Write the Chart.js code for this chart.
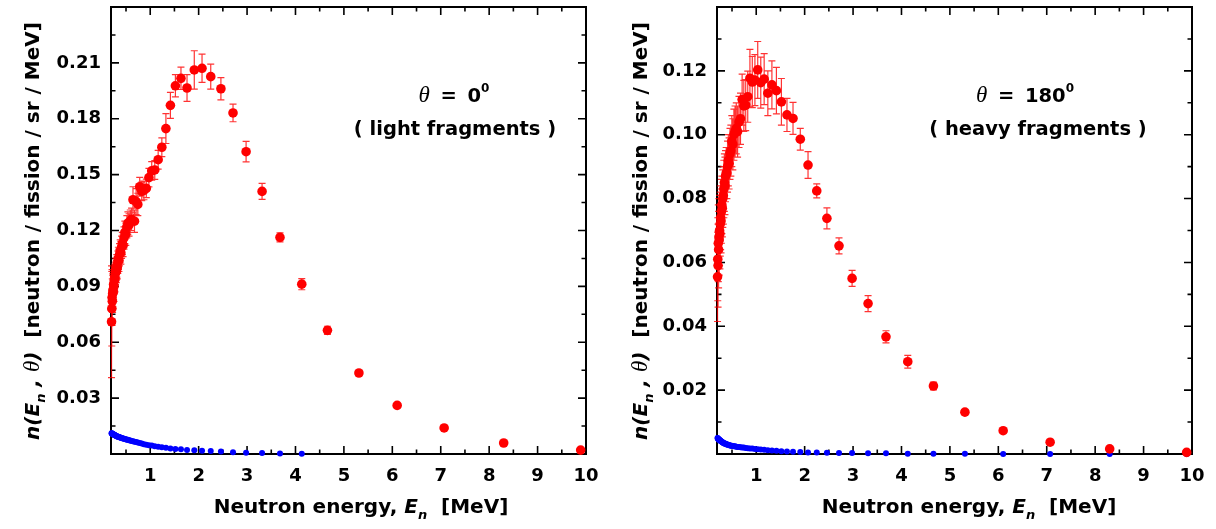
<!DOCTYPE html>
<html>
<head>
<meta charset="utf-8">
<script src="https://cdn.jsdelivr.net/npm/chart.js@4.4.1/dist/chart.umd.min.js"></script>
<style>
  html, body { margin: 0; padding: 0; background: #ffffff; }
  #wrap { position: relative; width: 1216px; height: 529px; overflow: hidden; background: #ffffff; }
  .panel { position: absolute; top: 0; width: 608px; height: 529px; }
</style>
</head>
<body>
<div id="wrap">
  <div class="panel" style="left:0px"><canvas id="lightChart" width="608" height="529"></canvas></div>
  <div class="panel" style="left:608px"><canvas id="heavyChart" width="608" height="529"></canvas></div>
</div>
<script>
// Neutron energy bins [MeV]
const energy = [
  0.201, 0.206, 0.212, 0.217, 0.223, 0.230, 0.236, 0.243, 0.250, 0.257,
  0.265, 0.273, 0.282, 0.291, 0.300, 0.310, 0.320, 0.331, 0.342, 0.354,
  0.366, 0.380, 0.394, 0.408, 0.424, 0.440, 0.458, 0.476, 0.496, 0.517,
  0.539, 0.563, 0.588, 0.615, 0.644, 0.675, 0.709, 0.744, 0.783, 0.825,
  0.870, 0.919, 0.973, 1.031, 1.094, 1.164, 1.240, 1.324, 1.417, 1.520,
  1.635, 1.760, 1.910, 2.070, 2.250, 2.460, 2.710, 2.980, 3.310, 3.680,
  4.130, 4.660, 5.310, 6.100, 7.070, 8.300, 9.890
];

// theta = 0 deg (light fragments): spectrum and its uncertainty
const lightSpectrum = [
  0.071, 0.078, 0.084, 0.082, 0.086, 0.088, 0.087, 0.091, 0.090, 0.093,
  0.095, 0.094, 0.097, 0.099, 0.098, 0.101, 0.100, 0.103, 0.105, 0.104,
  0.107, 0.109, 0.108, 0.111, 0.113, 0.112, 0.116, 0.119, 0.118, 0.122,
  0.124, 0.123, 0.125, 0.126, 0.1365, 0.125, 0.1355, 0.134, 0.1435, 0.141,
  0.1415, 0.1426, 0.1484, 0.152, 0.1525, 0.158, 0.1647, 0.1747, 0.1872, 0.1977,
  0.2017, 0.1965, 0.2062, 0.2071, 0.2026, 0.1961, 0.1831, 0.1623, 0.141, 0.1163,
  0.0912, 0.0664, 0.0435, 0.0261, 0.014, 0.0059, 0.0021
];
const lightError = [
  0.030, 0.020, 0.015, 0.012, 0.010, 0.009, 0.009, 0.008, 0.008, 0.007,
  0.007, 0.007, 0.006, 0.006, 0.006, 0.006, 0.006, 0.006, 0.006, 0.006,
  0.006, 0.006, 0.006, 0.006, 0.006, 0.006, 0.006, 0.006, 0.006, 0.006,
  0.006, 0.006, 0.006, 0.006, 0.007, 0.006, 0.007, 0.006, 0.005, 0.005,
  0.005, 0.005, 0.005, 0.005, 0.005, 0.005, 0.005, 0.008, 0.007, 0.006,
  0.006, 0.0072, 0.0103, 0.0076, 0.0067, 0.006, 0.0047, 0.0055, 0.0043, 0.0024,
  0.003, 0.0022, 0.0012, 0.001, 0.0008, 0.0006, 0.0005
];
const lightLow = [
  0.0112, 0.0111, 0.0110, 0.0109, 0.0108, 0.0107, 0.0106, 0.0105, 0.0104, 0.0103,
  0.0102, 0.0101, 0.0099, 0.0098, 0.0097, 0.0095, 0.0094, 0.0093, 0.0092, 0.0091,
  0.0090, 0.0089, 0.0087, 0.0086, 0.0085, 0.0083, 0.0082, 0.0080, 0.0079, 0.0077,
  0.0076, 0.0074, 0.0072, 0.0070, 0.0068, 0.0066, 0.0064, 0.0062, 0.0059, 0.0056,
  0.0053, 0.0050, 0.0047, 0.0045, 0.0042, 0.0039, 0.0036, 0.0033, 0.0030, 0.0027,
  0.0025, 0.0022, 0.0020, 0.0018, 0.0016, 0.0013, 0.0010, 0.0007, 0.0005, 0.0003,
  0.0002
];

// theta = 180 deg (heavy fragments)
const heavySpectrum = [
  0.0555, 0.061, 0.059, 0.066, 0.064, 0.068, 0.067, 0.070, 0.069, 0.072,
  0.074, 0.073, 0.076, 0.078, 0.077, 0.080, 0.081, 0.083, 0.085, 0.084,
  0.087, 0.088, 0.088, 0.090, 0.092, 0.091, 0.094, 0.095, 0.098, 0.097,
  0.100, 0.101, 0.102, 0.101, 0.104, 0.105, 0.111, 0.109, 0.1093, 0.1119,
  0.1177, 0.1165, 0.1171, 0.1203, 0.1163, 0.1174, 0.113, 0.1156, 0.1138, 0.1103,
  0.1062, 0.1051, 0.0986, 0.0905, 0.0824, 0.0738, 0.0652, 0.055, 0.0471, 0.0367,
  0.0289, 0.0213, 0.0131, 0.0073, 0.0037, 0.0016, 0.0005
];
const heavyError = [
  0.014, 0.013, 0.013, 0.012, 0.012, 0.012, 0.011, 0.011, 0.011, 0.010,
  0.010, 0.010, 0.010, 0.009, 0.009, 0.009, 0.009, 0.009, 0.009, 0.009,
  0.008, 0.008, 0.008, 0.008, 0.008, 0.008, 0.008, 0.008, 0.008, 0.008,
  0.008, 0.008, 0.008, 0.008, 0.008, 0.008, 0.008, 0.008, 0.008, 0.008,
  0.009, 0.008, 0.008, 0.0089, 0.008, 0.008, 0.007, 0.0075, 0.0073, 0.0073,
  0.0052, 0.005, 0.0034, 0.0042, 0.0022, 0.0033, 0.0025, 0.0025, 0.0025, 0.0019,
  0.002, 0.0012, 0.0008, 0.0006, 0.0005, 0.0004, 0.0003
];
const heavyLow = [
  0.0050, 0.0049, 0.0048, 0.0047, 0.0046, 0.0045, 0.0045, 0.0044, 0.0043, 0.0042,
  0.0041, 0.0040, 0.0039, 0.0038, 0.0037, 0.0036, 0.0035, 0.0034, 0.0033, 0.0033,
  0.0032, 0.0031, 0.0030, 0.0029, 0.0029, 0.0028, 0.0027, 0.0026, 0.0026, 0.0025,
  0.0024, 0.0024, 0.0023, 0.0022, 0.0022, 0.0021, 0.0020, 0.0020, 0.0019, 0.0018,
  0.0017, 0.0017, 0.0016, 0.0015, 0.0014, 0.0013, 0.0012, 0.0011, 0.0010, 0.0009,
  0.0008, 0.0007, 0.0006, 0.0005, 0.0005, 0.0004, 0.0003, 0.0003, 0.0002, 0.0002,
  0.0001, 0.0001, 0.0001, 0.0000, 0.0000, 0.0000, 0.0000
];

// Axis ticks and labels
const xTickValues = [1, 2, 3, 4, 5, 6, 7, 8, 9, 10];
const xTickLabels = ['1', '2', '3', '4', '5', '6', '7', '8', '9', '10'];
const lightYTickValues = [0.03, 0.06, 0.09, 0.12, 0.15, 0.18, 0.21];
const lightYTickLabels = ['0.03', '0.06', '0.09', '0.12', '0.15', '0.18', '0.21'];
const heavyYTickValues = [0.02, 0.04, 0.06, 0.08, 0.10, 0.12];
const heavyYTickLabels = ['0.02', '0.04', '0.06', '0.08', '0.10', '0.12'];

const RED = '#ff0000';
const BLUE = '#0000ff';
const SANS = '"DejaVu Sans"';

function points(xs, ys) {
  return ys.map((v, i) => ({ x: xs[i], y: v }));
}

// Major/minor tick positions: minor ticks halfway between labelled steps
function tickGrid(min, max, step) {
  const out = [];
  const half = step / 2;
  for (let k = 0; ; k++) {
    const v = +(k * half).toFixed(6);
    if (v > max + 1e-9) break;
    if (v >= min - 1e-9) out.push({ value: v, isMajor: k % 2 === 0 });
  }
  return out;
}

function labelFor(values, labels) {
  return (value) => {
    const i = values.findIndex(v => Math.abs(v - value) < 1e-7);
    return i < 0 ? '' : labels[i];
  };
}

// Frame with inward ticks on all four sides
const framePlugin = {
  id: 'frameTicks',
  beforeDatasetsDraw(chart) {
    const { ctx, chartArea: a, scales: { x, y } } = chart;
    ctx.save();
    ctx.strokeStyle = '#000';
    ctx.lineWidth = 1.6;
    ctx.beginPath();
    x.ticks.forEach(t => {
      const px = x.getPixelForValue(t.value);
      const len = t.isMajor ? 8 : 4.5;
      ctx.moveTo(px, a.bottom); ctx.lineTo(px, a.bottom - len);
      ctx.moveTo(px, a.top); ctx.lineTo(px, a.top + len);
    });
    y.ticks.forEach(t => {
      const py = y.getPixelForValue(t.value);
      const len = t.isMajor ? 8 : 4.5;
      ctx.moveTo(a.left, py); ctx.lineTo(a.left + len, py);
      ctx.moveTo(a.right, py); ctx.lineTo(a.right - len, py);
    });
    ctx.stroke();
    ctx.lineWidth = 2;
    ctx.strokeRect(a.left, a.top, a.right - a.left, a.bottom - a.top);
    ctx.restore();
  }
};

// Vertical error bars with caps, read from dataset.errorValues
const errorBarPlugin = {
  id: 'errorBars',
  beforeDatasetsDraw(chart) {
    const { ctx, scales: { y } } = chart;
    chart.data.datasets.forEach((ds, di) => {
      if (!ds.errorValues) return;
      const meta = chart.getDatasetMeta(di);
      ctx.save();
      ctx.strokeStyle = 'rgba(255,0,0,0.8)';
      ctx.lineWidth = 1.2;
      ctx.beginPath();
      meta.data.forEach((el, i) => {
        const e = ds.errorValues[i];
        const v = ds.data[i].y;
        const top = y.getPixelForValue(v + e);
        const bot = y.getPixelForValue(v - e);
        const cx = el.x;
        ctx.moveTo(cx, top); ctx.lineTo(cx, bot);
        ctx.moveTo(cx - 3.5, top); ctx.lineTo(cx + 3.5, top);
        ctx.moveTo(cx - 3.5, bot); ctx.lineTo(cx + 3.5, bot);
      });
      ctx.stroke();
      ctx.restore();
    });
  }
};

function runsWidth(ctx, runs) {
  let w = 0;
  runs.forEach(r => { ctx.font = r.font; w += ctx.measureText(r.text).width; });
  return w;
}
function drawRuns(ctx, runs, x, y) {
  runs.forEach(r => {
    ctx.font = r.font;
    ctx.fillText(r.text, x, y + (r.dy || 0));
    x += ctx.measureText(r.text).width;
  });
}

const B = 'bold 19.5px ' + SANS;
const BT = 'bold 20px ' + SANS;
const BI = 'italic bold 20px ' + SANS;
const SUB = 'italic bold 13px ' + SANS;
const THETA = 'italic 23px "Liberation Serif"';

const yTitleRuns = [
  { text: 'n', font: BI }, { text: '(', font: BI }, { text: 'E', font: BI },
  { text: 'n', font: SUB, dy: 6 }, { text: ' , ', font: BI },
  { text: 'θ', font: THETA }, { text: ')', font: BI },
  { text: '  [neutron / fission / sr / MeV]', font: BT }
];
const xTitleRuns = [
  { text: 'Neutron energy, ', font: BT }, { text: 'E', font: BI },
  { text: 'n', font: SUB, dy: 6 }, { text: '  [MeV]', font: BT }
];

function titlePlugin(angleText, fragText, angleCenter, fragCenter) {
  return {
    id: 'panelTexts',
    afterDraw(chart) {
      const ctx = chart.ctx;
      ctx.save();
      ctx.fillStyle = '#000';
      ctx.textBaseline = 'alphabetic';
      ctx.textAlign = 'left';
      // x title
      const xw = runsWidth(ctx, xTitleRuns);
      drawRuns(ctx, xTitleRuns, 361 - xw / 2, 513);
      // y title (rotated)
      ctx.save();
      ctx.translate(39, 231);
      ctx.rotate(-Math.PI / 2);
      const yw = runsWidth(ctx, yTitleRuns);
      drawRuns(ctx, yTitleRuns, -yw / 2, 0);
      ctx.restore();
      // angle annotation
      const angleRuns = [
        { text: 'θ', font: THETA }, { text: ' \u2009=\u2009 ', font: B },
        { text: angleText, font: B }, { text: '0', font: 'bold 12px ' + SANS, dy: -10 }
      ];
      const aw = runsWidth(ctx, angleRuns);
      drawRuns(ctx, angleRuns, angleCenter - aw / 2, 102);
      ctx.font = B;
      ctx.textAlign = 'center';
      ctx.fillText(fragText, fragCenter, 135);
      ctx.restore();
    }
  };
}

function makePanel(canvasId, cfg) {
  const xTicks = tickGrid(cfg.xMin, cfg.xMax, 1);
  const yTicks = tickGrid(0, cfg.yMax, cfg.yStep);
  const tickFont = { family: SANS, size: 18, weight: 'bold' };
  return new Chart(document.getElementById(canvasId), {
    type: 'scatter',
    data: {
      datasets: [
        {
          data: points(energy, cfg.spectrum),
          errorValues: cfg.errors,
          backgroundColor: RED, borderColor: RED,
          pointRadius: 4.8, pointHoverRadius: 4.8, pointBorderWidth: 0,
          clip: false
        },
        {
          data: points(energy, cfg.low),
          backgroundColor: BLUE, borderColor: BLUE,
          pointRadius: 3, pointHoverRadius: 3, pointBorderWidth: 0,
          clip: false
        }
      ]
    },
    options: {
      responsive: false,
      animation: false,
      events: [],
      layout: { padding: { left: 0, top: 7, right: cfg.padRight, bottom: 0 } },
      plugins: { legend: { display: false }, tooltip: { enabled: false }, title: { display: false } },
      scales: {
        x: {
          type: 'linear', position: 'bottom', min: cfg.xMin, max: cfg.xMax,
          afterBuildTicks: axis => { axis.ticks = xTicks.map(t => ({ ...t })); },
          afterFit: axis => {
            axis.height = 75;
            axis.paddingLeft = 0; axis.paddingRight = 0;
            axis.paddingTop = 0; axis.paddingBottom = 0;
          },
          grid: { display: false, drawTicks: false },
          border: { display: false },
          ticks: {
            autoSkip: false, maxRotation: 0, minRotation: 0, padding: 12,
            color: '#000', font: tickFont,
            callback: labelFor(xTickValues, xTickLabels)
          }
        },
        y: {
          type: 'linear', position: 'left', min: 0, max: cfg.yMax,
          afterBuildTicks: axis => { axis.ticks = yTicks.map(t => ({ ...t })); },
          afterFit: axis => {
            axis.width = cfg.yAxisWidth;
            axis.paddingLeft = 0; axis.paddingRight = 0;
            axis.paddingTop = 0; axis.paddingBottom = 0;
          },
          grid: { display: false, drawTicks: false },
          border: { display: false },
          ticks: {
            autoSkip: false, padding: 10,
            color: '#000', font: tickFont,
            callback: labelFor(cfg.yTickValues, cfg.yTickLabels)
          }
        }
      }
    },
    plugins: [framePlugin, errorBarPlugin,
      titlePlugin(cfg.angleText, cfg.fragText, cfg.angleCenter, cfg.fragCenter)]
  });
}

makePanel('lightChart', {
  spectrum: lightSpectrum, errors: lightError, low: lightLow,
  xMin: 0.19, xMax: 10, yMax: 0.24, yStep: 0.03,
  yTickValues: lightYTickValues, yTickLabels: lightYTickLabels,
  yAxisWidth: 111, padRight: 22,
  angleText: '0', fragText: '( light fragments )', angleCenter: 454, fragCenter: 455
});

makePanel('heavyChart', {
  spectrum: heavySpectrum, errors: heavyError, low: heavyLow,
  xMin: 0.19, xMax: 10, yMax: 0.14, yStep: 0.02,
  yTickValues: heavyYTickValues, yTickLabels: heavyYTickLabels,
  yAxisWidth: 109, padRight: 24,
  angleText: '180', fragText: '( heavy fragments )', angleCenter: 417, fragCenter: 430
});
</script>
</body>
</html>
